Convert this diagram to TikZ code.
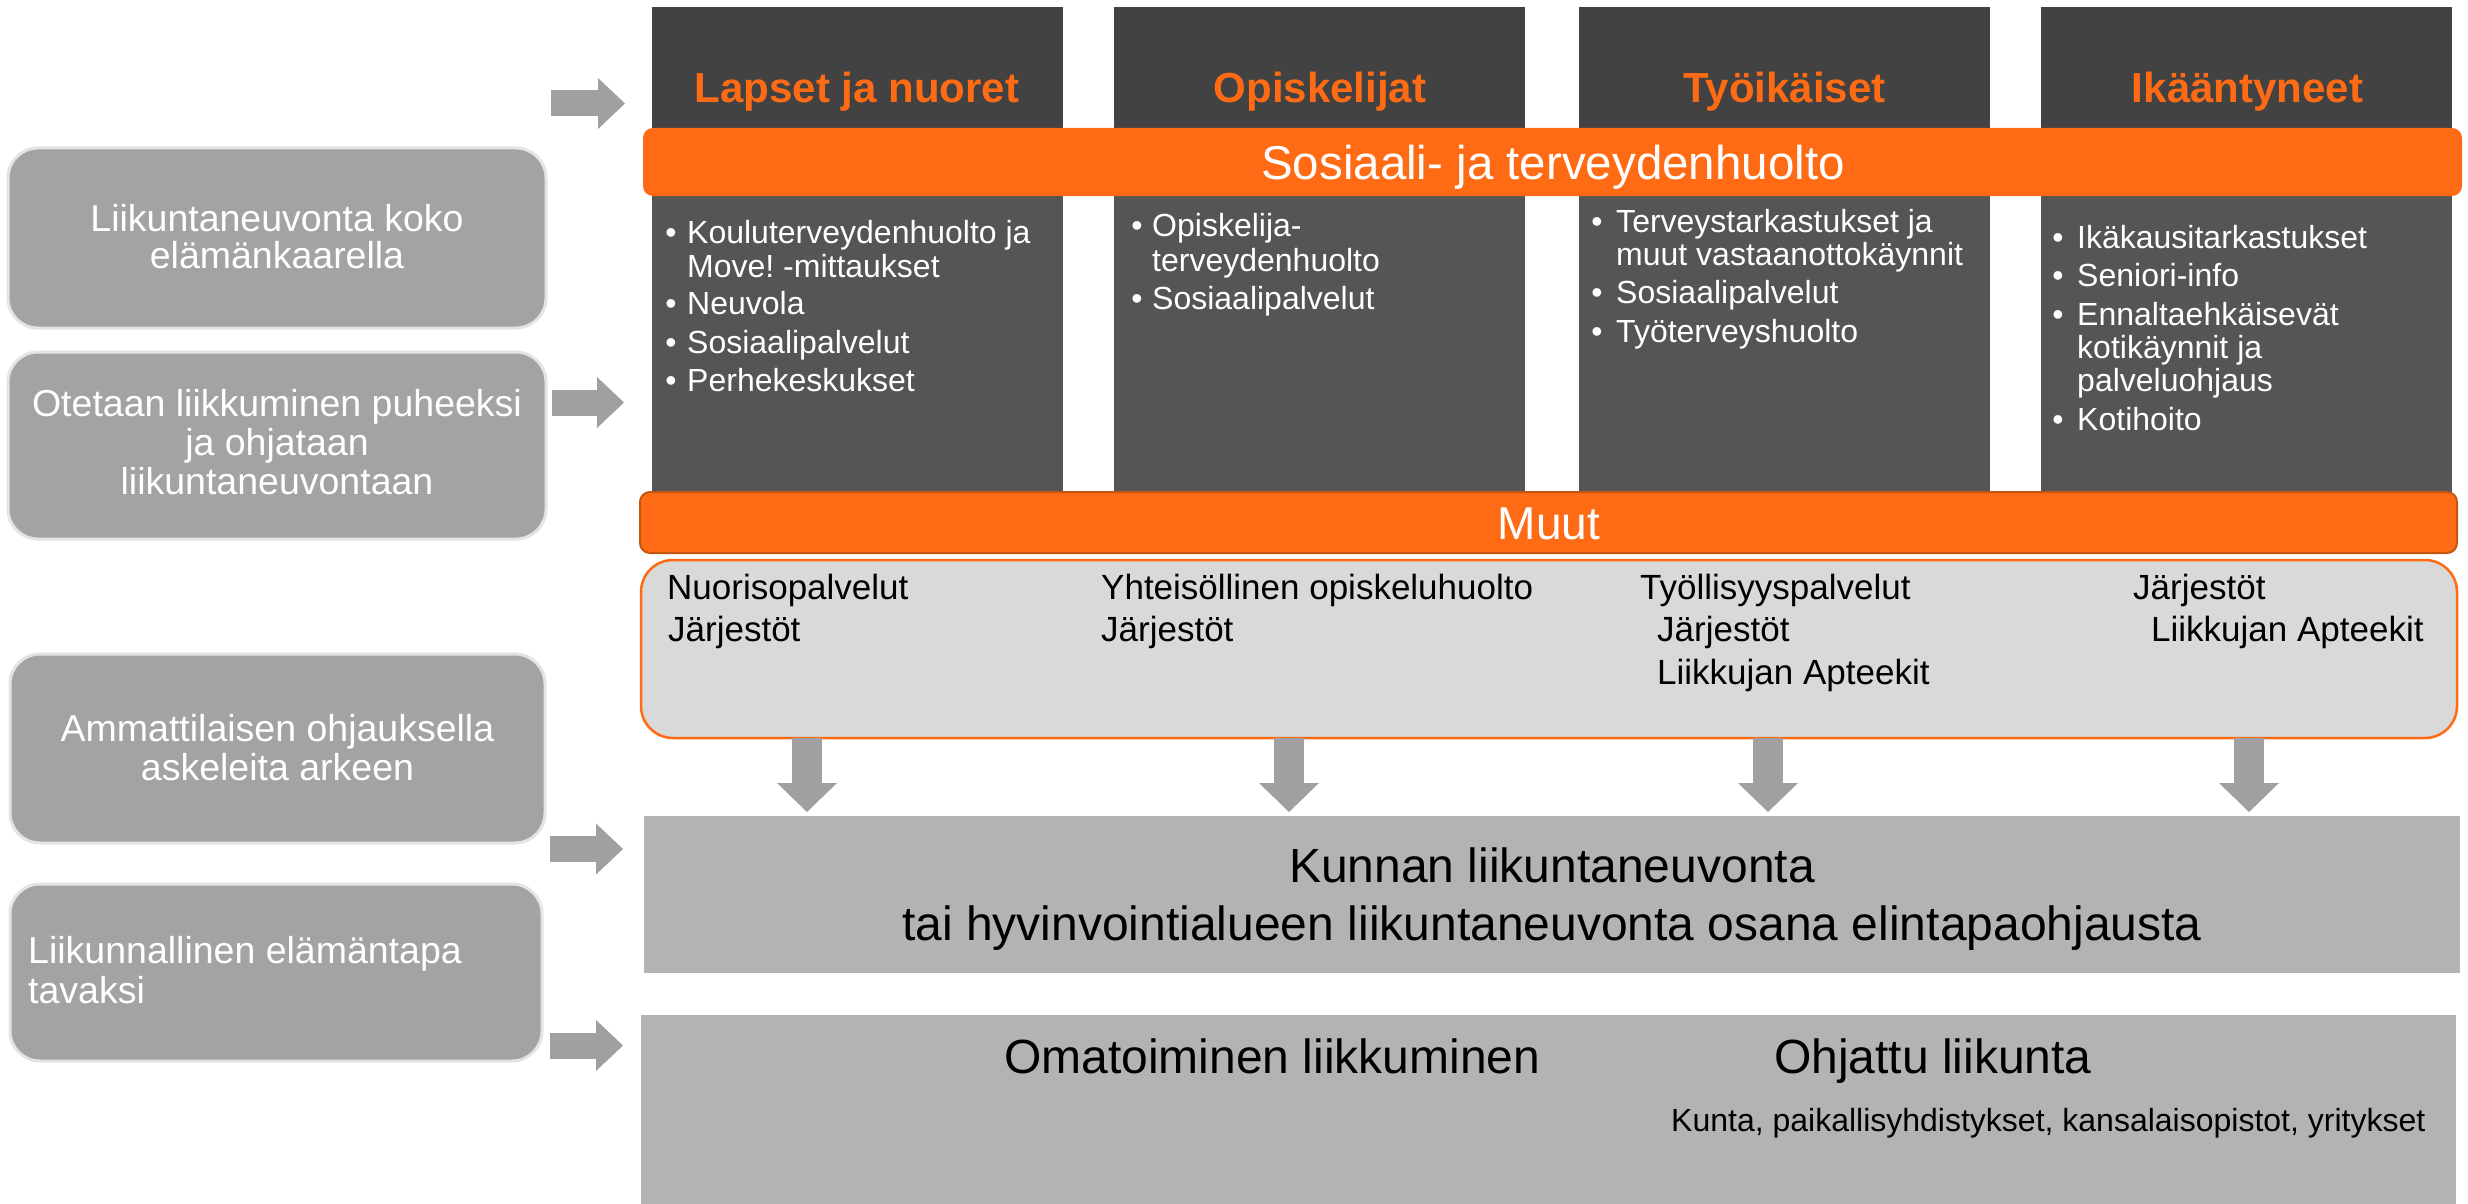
\documentclass[tikz,border=0pt]{standalone}
\usepackage{fontspec}
\setmainfont{Liberation Sans}
\usetikzlibrary{arrows.meta,fit}
\definecolor{darkhdr}{HTML}{424242}
\definecolor{darkbody}{HTML}{555555}
\definecolor{orng}{HTML}{FF6B14}
\definecolor{orngdark}{HTML}{C4570F}
\definecolor{leftgray}{HTML}{A3A3A3}
\definecolor{leftedge}{HTML}{E4E4E4}
\definecolor{arrowgray}{HTML}{A0A0A0}
\definecolor{lightbox}{HTML}{D9D9D9}
\definecolor{midgray}{HTML}{B3B3B3}
\newcommand\myfHdr{\fontsize{42}{50}\selectfont\bfseries}
\newcommand\myfBand{\fontsize{47.5}{56}\selectfont}
\newcommand\myfMuut{\fontsize{46}{54}\selectfont}
\newcommand\myfBul{\fontsize{32}{38}\selectfont}
\newcommand\myfLight{\fontsize{35}{42}\selectfont}
\newcommand\myfLarge{\fontsize{48}{58}\selectfont}
\newcommand\myfLeft{\fontsize{37.5}{44}\selectfont}
\frenchspacing
\begin{document}
\begin{tikzpicture}[x=1pt,y=-1pt,
  box/.style={inner sep=0pt, outer sep=0pt},
  hdr/.style={box, fill=darkhdr},
  body/.style={box, fill=darkbody},
  band/.style={box, fill=orng, rounded corners=10pt},
  leftbox/.style={box, fill=leftgray, draw=leftedge, line width=3pt, rounded corners=30pt},
  graybox/.style={box, fill=midgray},
  hdrtxt/.style={inner sep=0pt, anchor=base, text=orng, font=\myfHdr},
  bandtxt/.style={inner sep=0pt, anchor=base, text=white},
  bul/.style={inner sep=0pt, anchor=base, text=white, font=\myfBul},
  itm/.style={inner sep=0pt, anchor=base west, text=white, font=\myfBul},
  ltxt/.style={inner sep=0pt, anchor=base west, text=black, font=\myfLight},
  bigtxt/.style={inner sep=0pt, text=black, font=\myfLarge},
  lefttxt/.style={inner sep=0pt, anchor=base, text=white, font=\myfLeft},
  rarrow/.style={draw=arrowgray, line width=26pt, -{Triangle[width=51pt,length=27pt,line width=0pt]}},
  darrow/.style={draw=arrowgray, line width=30pt, -{Triangle[width=60pt,length=29pt,line width=0pt]}}
]
\useasboundingbox (0,0) rectangle (2468,1204);
\fill[white] (0,0) rectangle (2468,1204);

% columns
\node[hdr, fit={(652,7) (1063,130)}] (c1h) {};
\node[hdr, fit={(1114,7) (1525,130)}] (c2h) {};
\node[hdr, fit={(1579,7) (1990,130)}] (c3h) {};
\node[hdr, fit={(2041,7) (2452,130)}] (c4h) {};
\node[body, fit={(652,194) (1063,492)}] (c1b) {};
\node[body, fit={(1114,194) (1525,492)}] (c2b) {};
\node[body, fit={(1579,194) (1990,492)}] (c3b) {};
\node[body, fit={(2041,194) (2452,492)}] (c4b) {};

% bands
\node[band, fit={(643,128) (2462,196)}] (sote) {};
\node[band, draw=orngdark, line width=2pt, fit={(640,492) (2457,553)}] (muut) {};

% light box
\node[box, fill=lightbox, draw=orng, line width=2.5pt, rounded corners=32pt, fit={(641,560) (2457,738)}] (muutbox) {};

% gray boxes
\node[graybox, fit={(644,816) (2460,973)}] (kunnan) {};
\node[graybox, fit={(641,1015) (2456,1204)}] (oma) {};

% left boxes
\node[leftbox, fit={(8,148) (546,328)}] (lb1) {};
\node[leftbox, fit={(8,352) (546,539)}] (lb2) {};
\node[leftbox, fit={(10,654) (545,843)}] (lb3) {};
\node[leftbox, fit={(10,884) (542,1061)}] (lb4) {};

% right arrows
\coordinate (ra1s) at (551,103.5); \coordinate (ra1e) at (625,103.5);
\coordinate (ra2s) at (552,402.5); \coordinate (ra2e) at (624,402.5);
\coordinate (ra3s) at (550,849);   \coordinate (ra3e) at (623,849);
\coordinate (ra4s) at (550,1045.5);\coordinate (ra4e) at (623,1045.5);
\draw[rarrow] (ra1s) -- (ra1e);
\draw[rarrow] (ra2s) -- (ra2e);
\draw[rarrow] (ra3s) -- (ra3e);
\draw[rarrow] (ra4s) -- (ra4e);

% down arrows
\coordinate (da1s) at (807,738);  \coordinate (da1e) at (807,812);
\coordinate (da2s) at (1289,738); \coordinate (da2e) at (1289,812);
\coordinate (da3s) at (1768,738); \coordinate (da3e) at (1768,812);
\coordinate (da4s) at (2249,738); \coordinate (da4e) at (2249,812);
\draw[darrow] (da1s) -- (da1e);
\draw[darrow] (da2s) -- (da2e);
\draw[darrow] (da3s) -- (da3e);
\draw[darrow] (da4s) -- (da4e);

% headers
\node[hdrtxt] (h1) at (857,102.5) {Lapset ja nuoret};
\node[hdrtxt] (h2) at (1320,102.5) {Opiskelijat};
\node[hdrtxt] (h3) at (1784.5,102.5) {Työikäiset};
\node[hdrtxt] (h4) at (2247.5,102.5) {Ikääntyneet};

\node[bandtxt, font=\myfBand] (sotet) at (1553,179) {Sosiaali- ja terveydenhuolto};
\node[bandtxt, font=\myfMuut] (muutt) at (1549,539) {Muut};

% column 1
\node[bul] (b11) at (671,243) {•};
\node[bul] (b12) at (671,314) {•};
\node[bul] (b13) at (671,353) {•};
\node[bul] (b14) at (671,391) {•};
\node[itm] (i11) at (687,243) {Kouluterveydenhuolto ja};
\node[itm] (i12) at (687,277) {Move! -mittaukset};
\node[itm] (i13) at (687,314) {Neuvola};
\node[itm] (i14) at (687,353) {Sosiaalipalvelut};
\node[itm] (i15) at (687,391) {Perhekeskukset};
% column 2
\node[bul] (b21) at (1137,236) {•};
\node[bul] (b22) at (1137,309) {•};
\node[itm] (i21) at (1152,236) {Opiskelija-};
\node[itm] (i22) at (1152,271) {terveydenhuolto};
\node[itm] (i23) at (1152,309) {Sosiaalipalvelut};
% column 3
\node[bul] (b31) at (1597,232) {•};
\node[bul] (b32) at (1597,303) {•};
\node[bul] (b33) at (1597,342) {•};
\node[itm] (i31) at (1616,232) {Terveystarkastukset ja};
\node[itm] (i32) at (1616,265) {muut vastaanottokäynnit};
\node[itm] (i33) at (1616,303) {Sosiaalipalvelut};
\node[itm] (i34) at (1616,342) {Työterveyshuolto};
% column 4
\node[bul] (b41) at (2058,248) {•};
\node[bul] (b42) at (2058,286) {•};
\node[bul] (b43) at (2058,325) {•};
\node[bul] (b44) at (2058,430) {•};
\node[itm] (i41) at (2077,248) {Ikäkausitarkastukset};
\node[itm] (i42) at (2077,286) {Seniori-info};
\node[itm] (i43) at (2077,325) {Ennaltaehkäisevät};
\node[itm] (i44) at (2077,358) {kotikäynnit ja};
\node[itm] (i45) at (2077,391) {palveluohjaus};
\node[itm] (i46) at (2077,430) {Kotihoito};

% light box text
\node[ltxt] (m11) at (667,599) {Nuorisopalvelut};
\node[ltxt] (m12) at (668,641) {Järjestöt};
\node[ltxt] (m21) at (1101,599) {Yhteisöllinen opiskeluhuolto};
\node[ltxt] (m22) at (1101,641) {Järjestöt};
\node[ltxt] (m31) at (1640,599) {Työllisyyspalvelut};
\node[ltxt] (m32) at (1657,641) {Järjestöt};
\node[ltxt] (m33) at (1657,684) {Liikkujan Apteekit};
\node[ltxt] (m41) at (2133,599) {Järjestöt};
\node[ltxt] (m42) at (2151,641) {Liikkujan Apteekit};

% kunnan
\node[bigtxt, anchor=base] (k1) at (1552,882) {Kunnan liikuntaneuvonta};
\node[bigtxt, anchor=base] (k2) at (1552,940) {tai hyvinvointialueen liikuntaneuvonta osana elintapaohjausta};

% bottom
\node[bigtxt, anchor=base west] (o1) at (1004,1073) {Omatoiminen liikkuminen};
\node[bigtxt, anchor=base west] (o2) at (1774,1073) {Ohjattu liikunta};
\node[inner sep=0pt, anchor=base west, font=\myfBul] (o3) at (1671,1131) {Kunta, paikallisyhdistykset, kansalaisopistot, yritykset};

% left texts
\node[lefttxt] (l11) at (277,231) {Liikuntaneuvonta koko};
\node[lefttxt] (l12) at (277,268) {elämänkaarella};
\node[lefttxt] (l21) at (277,416) {Otetaan liikkuminen puheeksi};
\node[lefttxt] (l22) at (277,455) {ja ohjataan};
\node[lefttxt] (l23) at (277,494) {liikuntaneuvontaan};
\node[lefttxt] (l31) at (277.5,741) {Ammattilaisen ohjauksella};
\node[lefttxt] (l32) at (277.5,780) {askeleita arkeen};
\node[lefttxt, anchor=base west] (l41) at (28,963) {Liikunnallinen elämäntapa};
\node[lefttxt, anchor=base west] (l42) at (28,1003) {tavaksi};
\end{tikzpicture}
\end{document}
